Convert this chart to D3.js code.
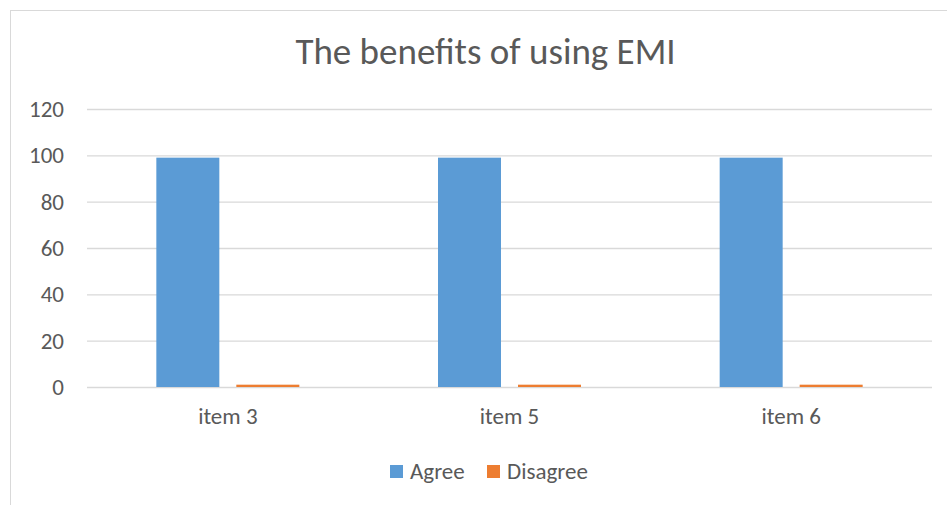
<!DOCTYPE html>
<html>
<head>
<meta charset="utf-8">
<script src="https://cdn.jsdelivr.net/npm/d3@7"></script>
<style>
  html, body { margin: 0; padding: 0; background: #fff; }
  svg { display: block; }
  text { font-family: Carlito, Calibri, "Liberation Sans", "DejaVu Sans", sans-serif; fill: #595959; }
</style>
</head>
<body>
<svg id="chart" width="947" height="505"></svg>
<script>
// Chart data
const categories = ["item 3", "item 5", "item 6"];
const seriesNames = ["Agree", "Disagree"];
const agreeValues = [99, 99, 99];
const disagreeValues = [1, 1, 1];
const yTicks = [0, 20, 40, 60, 80, 100, 120];
const titleText = "The benefits of using EMI";
const colors = ["#5B9BD5", "#ED7D31"];

const seriesValues = [agreeValues, disagreeValues];
const rows = categories.map((c, i) => ({
  category: c,
  values: seriesNames.map((s, j) => ({ series: s, value: seriesValues[j][i] }))
}));

const svg = d3.select("#chart");
const W = 947, H = 505;

// Outer chart frame
svg.append("rect")
  .attr("x", 10.5).attr("y", 10.5)
  .attr("width", W).attr("height", H)
  .attr("fill", "#fff").attr("stroke", "#D9D9D9").attr("stroke-width", 1);

const plot = { left: 87, right: 932, top: 109, bottom: 387 };

const y = d3.scaleLinear().domain([0, 120]).range([plot.bottom, plot.top]);
const x0 = d3.scaleBand().domain(categories).range([plot.left, plot.right]).padding(0);
const x1 = d3.scaleBand().domain(seriesNames).range([0, x0.bandwidth()])
  .paddingInner(0.2125).paddingOuter(0.8667);
const color = d3.scaleOrdinal().domain(seriesNames).range(colors);

// Title
svg.append("text")
  .attr("x", 485.5).attr("y", 64)
  .attr("text-anchor", "middle")
  .style("font-size", "37px")
  .text(titleText);

// Gridlines and y labels
const yAxis = d3.axisLeft(y).tickValues(yTicks).tickSize(-(plot.right - plot.left)).tickPadding(23);
const gy = svg.append("g").attr("transform", `translate(${plot.left},0)`).call(yAxis);
gy.select(".domain").remove();
gy.selectAll(".tick line").attr("stroke", "#D9D9D9").attr("stroke-width", 1.3);
gy.selectAll(".tick text").style("font-size", "23px").attr("fill", "#595959");

// Bars
const groups = svg.append("g").selectAll("g")
  .data(rows).join("g")
  .attr("transform", d => `translate(${x0(d.category)},0)`);
groups.selectAll("rect")
  .data(d => d.values).join("rect")
  .attr("x", d => x1(d.series))
  .attr("width", x1.bandwidth())
  .attr("y", d => y(d.value))
  .attr("height", d => y(0) - y(d.value))
  .attr("fill", d => color(d.series));

// Category axis
const xAxis = d3.axisBottom(x0).tickSize(0).tickPadding(21);
const gx = svg.append("g").attr("transform", `translate(0,${plot.bottom})`).call(xAxis);
gx.select(".domain").remove();
gx.selectAll(".tick text").style("font-size", "23px").attr("fill", "#595959");

// Legend
const legendItems = [
  { name: seriesNames[0], x: 390 },
  { name: seriesNames[1], x: 487 }
];
const lg = svg.append("g").selectAll("g").data(legendItems).join("g")
  .attr("transform", d => `translate(${d.x},465)`);
lg.append("rect").attr("width", 13).attr("height", 13).attr("fill", d => color(d.name));
lg.append("text").attr("x", 20).attr("y", 14).style("font-size", "23px").text(d => d.name);
</script>
</body>
</html>
